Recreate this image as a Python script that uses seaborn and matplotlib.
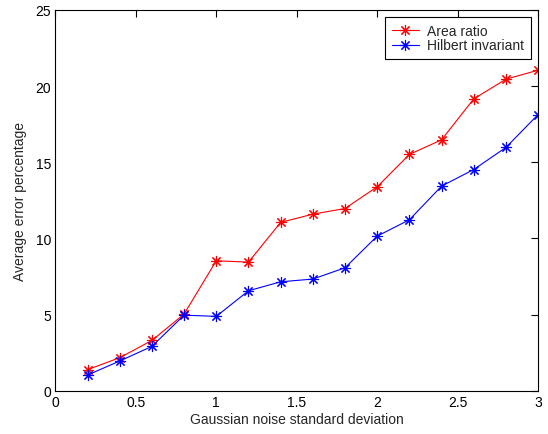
import matplotlib
matplotlib.use("Agg")
import matplotlib.pyplot as plt
import seaborn as sns
import pandas as pd

noise_std = [0.2, 0.4, 0.6, 0.8, 1.0, 1.2, 1.4, 1.6, 1.8, 2.0, 2.2, 2.4, 2.6, 2.8, 3.0]
area_ratio = [1.38, 2.17, 3.30, 5.03, 8.53, 8.44, 11.05, 11.59, 11.96, 13.39, 15.51, 16.47, 19.16, 20.45, 21.04]
hilbert_invariant = [1.03, 1.95, 2.91, 4.96, 4.88, 6.56, 7.15, 7.33, 8.07, 10.15, 11.22, 13.43, 14.52, 15.97, 18.13]
series_names = ["Area ratio", "Hilbert invariant"]
series_colors = ["#ff0000", "#0000ff"]
x_ticks = [0, 0.5, 1, 1.5, 2, 2.5, 3]
x_tick_labels = ["0", "0.5", "1", "1.5", "2", "2.5", "3"]
y_ticks = [0, 5, 10, 15, 20, 25]
y_tick_labels = ["0", "5", "10", "15", "20", "25"]

sns.set_style("white")
plt.rcParams["font.family"] = ["Liberation Sans", "DejaVu Sans"]

fig = plt.figure(figsize=(5.48, 4.35), dpi=100)
ax = fig.add_axes([0.101, 0.0995, 0.881, 0.8755])

df = pd.DataFrame({
    "x": noise_std * 2,
    "y": area_ratio + hilbert_invariant,
    "series": [series_names[0]] * len(noise_std) + [series_names[1]] * len(noise_std),
})

for name, color in zip(series_names, series_colors):
    sub = df[df["series"] == name]
    sns.lineplot(data=sub, x="x", y="y", ax=ax, color=color, linewidth=0.8,
                 marker=(8, 2, 0), markersize=8, markeredgewidth=0.8,
                 markeredgecolor=color, label=name)

ax.set_xlim(0, 3)
ax.set_ylim(0, 25)
ax.set_xticks(x_ticks)
ax.set_xticklabels(x_tick_labels)
ax.set_yticks(y_ticks)
ax.set_yticklabels(y_tick_labels)
ax.tick_params(direction="in", length=5, width=0.8, top=True, right=True,
               labelsize=10, colors="black", pad=3)
for s in ax.spines.values():
    s.set_visible(True)
    s.set_color("black")
    s.set_linewidth(0.8)

ax.set_xlabel("Gaussian noise standard deviation", fontsize=10, labelpad=2)
ax.set_ylabel("Average error percentage", fontsize=10, labelpad=6)

leg = ax.legend(loc="upper right", fancybox=False, edgecolor="black", framealpha=1,
                fontsize=10, borderaxespad=0.5, handlelength=1.95, borderpad=0.5,
                labelspacing=0.05, handletextpad=0.6)
leg.get_frame().set_linewidth(0.8)

fig.savefig("out.png", dpi=100, facecolor="white")
